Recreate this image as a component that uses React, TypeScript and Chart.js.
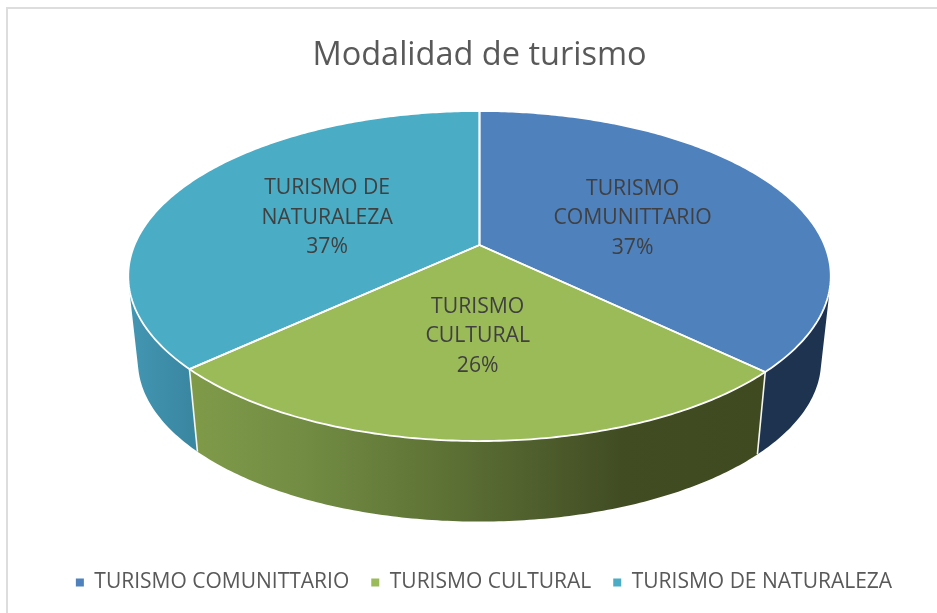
import React, { useEffect, useRef } from "react";
import { Chart, registerables } from "chart.js";

Chart.register(...registerables);

const categories = ["TURISMO COMUNITTARIO", "TURISMO CULTURAL", "TURISMO DE NATURALEZA"];
const shares = [37.2, 25.9, 36.9];
const topColors = ["#4F81BD", "#9BBB59", "#4BACC6"];
const wallStops: [number, string][][] = [
  [[0, "#1D3350"], [1, "#1D3350"]],
  [[0, "#7F9B49"], [0.2, "#728C43"], [0.42, "#5F7436"], [0.55, "#546530"], [0.75, "#414C23"], [1, "#3F4A21"]],
  [[0, "#4396B2"], [1, "#3A87A2"]],
];
const FONT = "'Open Sans', sans-serif";

// Projection of the flat pie into the tilted view
const view = { apexY: 245, a: 345, b: 159.2, k: 0.1879, depthScale: 0.9725, vanishY: 3370, labelAt: 0.5 };

function project(cx: number, theta: number, t: number, lower: boolean) {
  const u = Math.sin(theta) * t;
  const v = -Math.cos(theta) * t;
  const w = 1 - view.k * v;
  let x = cx + (view.a * u) / w;
  let y = view.apexY + (view.b * v) / w;
  if (lower) {
    x = cx + (x - cx) * view.depthScale;
    y = view.vanishY + (y - view.vanishY) * view.depthScale;
  }
  return { x, y };
}

function arcPoints(cx: number, from: number, to: number, lower: boolean) {
  const n = Math.max(8, Math.ceil((to - from) * 80));
  const pts = [];
  for (let i = 0; i <= n; i++) pts.push(project(cx, from + ((to - from) * i) / n, 1, lower));
  return pts;
}

const framePlugin = {
  id: "frame",
  beforeDraw(chart: any) {
    const { ctx, width, height } = chart;
    ctx.save();
    ctx.fillStyle = "#FFFFFF";
    ctx.fillRect(0, 0, width, height);
    ctx.strokeStyle = "#DDDDDD";
    ctx.lineWidth = 2;
    ctx.beginPath();
    ctx.moveTo(7, height);
    ctx.lineTo(7, 8);
    ctx.lineTo(width, 8);
    ctx.stroke();
    ctx.restore();
  },
};

const legendShiftPlugin = {
  id: "legendShift",
  afterLayout(chart: any) {
    chart.legend.left += 4.5;
    chart.legend.right += 4.5;
  },
};

const pie3dPlugin = {
  id: "pie3d",
  beforeDatasetDraw(chart: any, args: any) {
    const { ctx } = chart;
    const arcs = args.meta.data;
    const slices = arcs.map((arc: any, i: number) => ({
      i,
      from: arc.startAngle + Math.PI / 2,
      to: arc.endAngle + Math.PI / 2,
      cx: arc.x,
    }));
    const depth = (s: any) => -Math.cos((s.from + s.to) / 2);
    const ordered = [...slices].sort((p: any, q: any) => depth(p) - depth(q));

    ctx.save();
    ctx.lineJoin = "round";

    // walls: one path of quads, all wound the same way, so they fill as a union without seams
    for (const s of ordered) {
      const upper = arcPoints(s.cx, s.from, s.to, false);
      const lower = arcPoints(s.cx, s.from, s.to, true);
      const last = upper.length - 1;
      const xs = upper
        .map((p: any) => p.x)
        .filter((_: number, j: number) => -Math.cos(s.from + ((s.to - s.from) * j) / last) > -0.2);
      const g = ctx.createLinearGradient(Math.min(...xs), 0, Math.max(...xs), 0);
      wallStops[s.i].forEach(([o, c]) => g.addColorStop(o, c));
      ctx.fillStyle = g;
      ctx.beginPath();
      for (let j = 0; j < last; j++) {
        let quad = [upper[j], upper[j + 1], lower[j + 1], lower[j]];
        let area = 0;
        quad.forEach((p: any, m: number) => {
          const q: any = quad[(m + 1) % 4];
          area += p.x * q.y - q.x * p.y;
        });
        if (area < 0) quad = quad.reverse();
        quad.forEach((p: any, m: number) => (m ? ctx.lineTo(p.x, p.y) : ctx.moveTo(p.x, p.y)));
        ctx.closePath();
      }
      ctx.fill();
    }

    // wall separators
    ctx.strokeStyle = "#F4F4F0";
    ctx.lineWidth = 1.6;
    for (const s of slices) {
      if (-Math.cos(s.from) > -0.1) {
        const p = project(s.cx, s.from, 1, false);
        const q = project(s.cx, s.from, 1, true);
        ctx.beginPath();
        ctx.moveTo(p.x, p.y);
        ctx.lineTo(q.x, q.y);
        ctx.stroke();
      }
    }

    // top faces
    for (const s of slices) {
      const apex = project(s.cx, 0, 0, false);
      const rim = arcPoints(s.cx, s.from, s.to, false);
      ctx.beginPath();
      ctx.moveTo(apex.x, apex.y);
      rim.forEach((p: any) => ctx.lineTo(p.x, p.y));
      ctx.closePath();
      ctx.fillStyle = topColors[s.i];
      ctx.fill();
    }
    ctx.strokeStyle = "#FFFFFF";
    ctx.lineWidth = 1.8;
    for (const s of slices) {
      const apex = project(s.cx, 0, 0, false);
      const rim = arcPoints(s.cx, s.from, s.to, false);
      ctx.beginPath();
      ctx.moveTo(apex.x, apex.y);
      rim.forEach((p: any) => ctx.lineTo(p.x, p.y));
      ctx.closePath();
      ctx.stroke();
    }

    // labels
    const total = shares.reduce((a, b) => a + b, 0);
    ctx.fillStyle = "#404040";
    ctx.font = `21.2px ${FONT}`;
    ctx.textAlign = "center";
    ctx.textBaseline = "middle";
    for (const s of slices) {
      const c = project(s.cx, (s.from + s.to) / 2, view.labelAt, false);
      const words = categories[s.i].split(" ");
      const lines = [
        words.slice(0, -1).join(" "),
        words[words.length - 1],
        `${Math.round((shares[s.i] / total) * 100)}%`,
      ];
      lines.forEach((line, j) => ctx.fillText(line, c.x, c.y + 3.5 + (j - 1) * 29.5));
    }
    ctx.restore();
    return false;
  },
};

export default function App() {
  const ref = useRef<HTMLCanvasElement | null>(null);
  useEffect(() => {
    const chart = new Chart(ref.current as HTMLCanvasElement, {
      type: "pie",
      data: {
        labels: categories,
        datasets: [{ data: shares, backgroundColor: topColors, borderWidth: 0 }],
      },
      options: {
        animation: false,
        responsive: false,
        layout: { padding: { left: 22, right: 0, top: 0, bottom: 10 } },
        plugins: {
          title: {
            display: true,
            text: "Modalidad de turismo",
            color: "#595959",
            font: { family: FONT, size: 32.5, weight: "normal" },
            padding: { top: 36, bottom: 10 },
          },
          legend: {
            position: "bottom",
            labels: {
              boxWidth: 8,
              boxHeight: 8,
              padding: 22,
              color: "#595959",
              font: { family: FONT, size: 21 },
            },
          },
          tooltip: { enabled: false },
        },
      },
      plugins: [framePlugin, legendShiftPlugin, pie3dPlugin],
    } as any);
    return () => chart.destroy();
  }, []);
  return (
    <canvas
      ref={ref}
      width={937}
      height={613}
      style={{ position: "fixed", left: 0, top: 0, width: 937, height: 613, display: "block" }}
    />
  );
}
